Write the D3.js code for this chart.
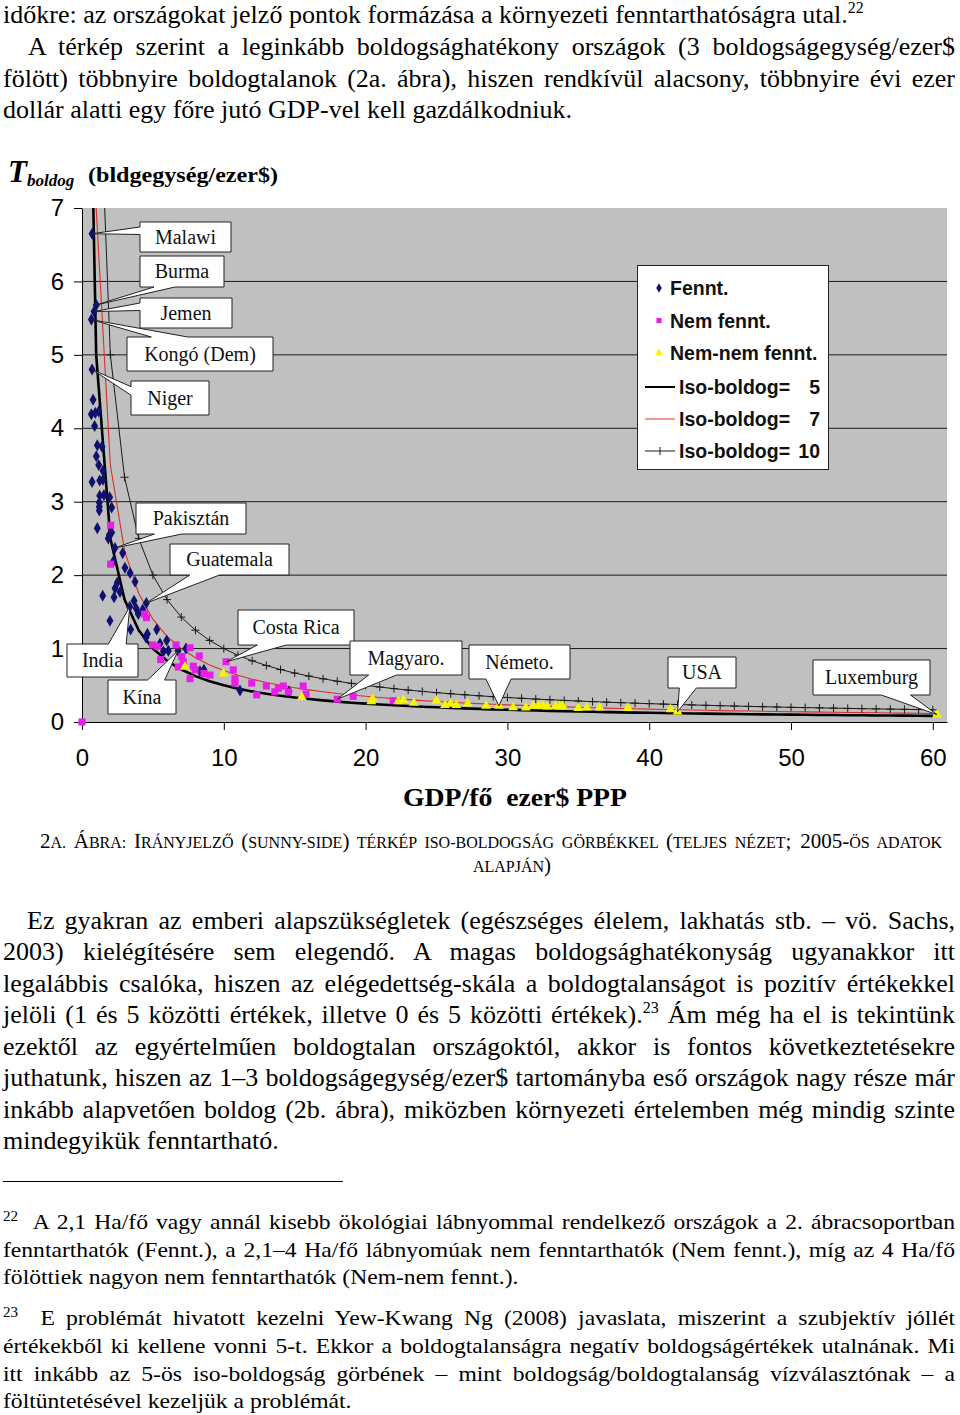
<!DOCTYPE html>
<html><head><meta charset="utf-8">
<script src="https://cdn.jsdelivr.net/npm/d3@7"></script>
<style>
body{margin:0;background:#fff;}
svg{display:block;}
text{white-space:pre;}
</style></head><body>
<svg id="page" width="960" height="1415"></svg>
<script>
// ---------------- DATA ----------------
// Fennt. (sustainable) countries: GDP/fő (ezer$ PPP) and T_boldog
const fenntGdp = [0.71,1.01,0.85,0.66,0.71,0.78,0.66,0.94,1.18,0.89,1.08,1.41,1.01,1.18,1.48,0.71,1.25,1.48,1.25,1.55,1.95,1.22,1.22,1.22,2.09,1.08,1.93,2.09,1.85,2.32,2.87,2.21,3.03,3.39,3.74,2.49,1.46,2.33,2.68,2.26,3.67,4.54,3.37,3.81,4.28,3.97,1.97,5.27,3.43,4.61,4.51,5.97,5.50,6.09,5.74,6.77,7.33,8.32,8.60,11.14,14.6];
const fenntT   = [6.65,5.68,5.59,5.48,4.80,4.39,4.19,4.21,4.23,4.03,3.77,3.75,3.62,3.50,3.42,3.27,3.29,3.30,3.08,3.09,3.06,2.99,2.93,2.88,2.92,2.64,2.55,2.58,2.50,2.37,2.30,2.19,2.10,2.03,1.91,1.90,1.72,1.82,1.77,1.70,1.65,1.62,1.57,1.55,1.53,1.47,1.38,1.26,1.26,1.20,1.15,1.11,1.07,0.97,0.96,0.97,1.00,0.69,0.71,0.43,0.42];
// Nem fennt.
const nemGdp = [0,2.02,2.02,4.42,4.55,4.98,5.31,5.55,6.63,6.79,7.03,7.14,7.62,7.62,7.85,7.97,8.27,8.60,9.03,10.16,10.67,10.79,10.79,11.97,12.32,13.0,13.6,13.85,14.2,14.55,15.6,15.8,18.0,19.13,21.95];
const nemT   = [0,2.68,2.15,1.47,1.42,1.05,1.03,0.85,1.05,0.75,0.89,0.82,1.01,0.59,0.76,0.71,0.90,0.66,0.64,0.82,0.71,0.59,0.53,0.53,0.37,0.49,0.41,0.46,0.49,0.41,0.49,0.38,0.31,0.35,0.29];
// Nem-nem fennt.
const nnGdp = [7.26,9.97,15.5,20.4,20.5,22.3,22.66,23.4,25.0,25.6,26.0,26.4,27.2,28.5,29.4,30.4,31.3,31.8,32.2,32.5,32.8,33.4,33.7,33.9,35.0,35.6,36.5,38.5,41.5,42.0,60.3];
const nnT   = [0.75,0.66,0.34,0.28,0.31,0.28,0.30,0.26,0.29,0.23,0.25,0.23,0.25,0.22,0.22,0.20,0.195,0.22,0.22,0.22,0.21,0.22,0.21,0.22,0.19,0.195,0.195,0.19,0.17,0.14,0.10];
// Iso-boldog curves: T = level / GDP, sampled at these GDP values
const isoLevels = [5, 7, 10];
const isoGdp = [0.5,1,2,3,4,5,6,7,8,9,10,11,12,13,14,15,16,17,18,19,20,21,22,23,24,25,26,27,28,29,30,31,32,33,34,35,36,37,38,39,40,41,42,43,44,45,46,47,48,49,50,51,52,53,54,55,56,57,58,59,60];
// Axes
const xTicks = [0,10,20,30,40,50,60];
const yTicks = [0,1,2,3,4,5,6,7];
// Legend
const seriesNames = ["Fennt.", "Nem fennt.", "Nem-nem fennt."];
const isoNames = ["Iso-boldog=", "Iso-boldog=", "Iso-boldog="];
// Callouts (labelled countries)
const calloutNames = ["Malawi","Burma","Jemen","Kongó (Dem)","Niger","Pakisztán","Guatemala","India","Kína","Costa Rica","Magyaro.","Németo.","USA","Luxemburg"];
const calloutGdp = [0.71,1.01,0.85,0.66,0.71,2.32,4.54,3.37,6.77,10.16,18.0,29.4,42.0,60.3];
const calloutT   = [6.65,5.68,5.59,5.48,4.80,2.37,1.62,1.57,0.97,0.82,0.31,0.22,0.14,0.10];

// ---------------- LAYOUT ----------------
const calloutBoxes = [[140,222,91,30],[140,256,84,31],[140,298,92,30],[127,337,146,34],[131,381,78,34],[136,503,110,31],[170,544,119,31],[67,644,71,33],[108,680,68,34],[238,610,116,35],[350,641,112,34],[469,645,101,34],[668,657,68,31],[813,660,117,35]];

const svg = d3.select('#page');
const SERIF = "'Liberation Serif','Times New Roman',serif";
const SANS = "'Liberation Sans',Arial,sans-serif";

// ---------------- TEXT HELPERS ----------------
function measure(str, size, family, weight) {
  const t = svg.append('text').attr('font-family', family).attr('font-size', size).attr('font-weight', weight||'normal').text(str);
  const w = t.node().getComputedTextLength();
  t.remove();
  return w;
}
// segs: [text, kind] kind 0 normal, 1 superscript, 2 big (caption), 3 small caps
function drawLine(segs, x, y, o) {
  const t = svg.append('text').attr('font-family', SERIF).attr('font-size', o.size)
    .attr('transform', `translate(${x},${y}) scale(${o.k},1)`).attr('fill', '#000');
  segs.forEach(([s, kind], i) => {
    const ts = t.append('tspan').text(s);
    if (kind === 1) ts.attr('font-size', o.supSize).attr('dy', -o.supRise);
    else if (i > 0 && segs[i-1][1] === 1) ts.attr('dy', o.supRise);
    if (kind === 2) ts.attr('font-size', o.bigSize);
    if (kind === 3) ts.attr('font-size', o.smallSize);
  });
  if (o.width) {
    const nat = t.node().getComputedTextLength();
    const spaces = segs.map(s => s[0]).join('').split(' ').length - 1;
    if (spaces > 0) t.attr('word-spacing', (o.width / o.k - nat) / spaces);
  }
  if (o.center !== undefined) {
    const nat = t.node().getComputedTextLength();
    t.attr('transform', `translate(${o.center - nat * o.k / 2},${y}) scale(${o.k},1)`);
  }
  return t;
}

// ---------------- BODY TEXT ----------------
const BODY = 26, FOOT = 22;
const kBody = 569 / measure("dollár alatti egy főre jutó GDP-vel kell gazdálkodniuk.", BODY, SERIF);
const kFoot = 516 / measure("fölöttiek nagyon nem fenntarthatók (Nem-nem fennt.).", FOOT, SERIF);
const bo = {size: BODY, k: kBody, supSize: 16, supRise: 10};
const fo = {size: FOOT, k: kFoot, supSize: 14, supRise: 8};

drawLine([["időkre: az országokat jelző pontok formázása a környezeti fenntarthatóságra utal.",0],["22",1]], 3, 23, bo);
drawLine([["A térkép szerint a leginkább boldogsághatékony országok (3 boldogságegység/ezer$",0]], 28, 55, {...bo, width: 927});
drawLine([["fölött) többnyire boldogtalanok (2a. ábra), hiszen rendkívül alacsony, többnyire évi ezer",0]], 3, 87, {...bo, width: 952});
drawLine([["dollár alatti egy főre jutó GDP-vel kell gazdálkodniuk.",0]], 3, 118, bo);

// caption (small caps)
const co = {size: 16, k: kBody, bigSize: 21, smallSize: 16};
drawLine([["2",2],["A. ",3],["Á",2],["BRA: ",3],["I",2],["RÁNYJELZŐ ",3],["(",2],["SUNNY-SIDE",3],[")",2],[" TÉRKÉP ISO-BOLDOGSÁG GÖRBÉKKEL ",3],["(",2],["TELJES NÉZET",3],["; 2005-",2],["ÖS ADATOK",3]], 40, 848, {...co, width: 902});
drawLine([["ALAPJÁN",3],[")",2]], 0, 872, {...co, center: 512});

const para = [
  [[["Ez gyakran az emberi alapszükségletek (egészséges élelem, lakhatás stb. – vö. Sachs,",0]], 27, 929, 928],
  [[["2003) kielégítésére sem elegendő. A magas boldogsághatékonyság ugyanakkor itt",0]], 3, 960, 952],
  [[["legalábbis csalóka, hiszen az elégedettség-skála a boldogtalanságot is pozitív értékekkel",0]], 3, 992, 952],
  [[["jelöli (1 és 5 közötti értékek, illetve 0 és 5 közötti értékek).",0],["23",1],[" Ám még ha el is tekintünk",0]], 3, 1023, 952],
  [[["ezektől az egyértelműen boldogtalan országoktól, akkor is fontos következtetésekre",0]], 3, 1055, 952],
  [[["juthatunk, hiszen az 1–3 boldogságegység/ezer$ tartományba eső országok nagy része már",0]], 3, 1086, 952],
  [[["inkább alapvetően boldog (2b. ábra), miközben környezeti értelemben még mindig szinte",0]], 3, 1118, 952],
  [[["mindegyikük fenntartható.",0]], 3, 1149, null]
];
para.forEach(([s, x, yb, w]) => drawLine(s, x, yb, w ? {...bo, width: w} : bo));

svg.append('line').attr('x1', 3).attr('x2', 343).attr('y1', 1181.5).attr('y2', 1181.5).attr('stroke', '#000').attr('stroke-width', 1.2);

const foot = [
  [[["22",1],["  A 2,1 Ha/fő vagy annál kisebb ökológiai lábnyommal rendelkező országok a 2. ábracsoportban",0]], 3, 1229, 952],
  [[["fenntarthatók (Fennt.), a 2,1–4 Ha/fő lábnyomúak nem fenntarthatók (Nem fennt.), míg az 4 Ha/fő",0]], 3, 1257, 952],
  [[["fölöttiek nagyon nem fenntarthatók (Nem-nem fennt.).",0]], 3, 1284, null],
  [[["23",1],["  E problémát hivatott kezelni Yew-Kwang Ng (2008) javaslata, miszerint a szubjektív jóllét",0]], 3, 1325, 952],
  [[["értékekből ki kellene vonni 5-t. Ekkor a boldogtalanságra negatív boldogságértékek utalnának. Mi",0]], 3, 1353, 952],
  [[["itt inkább az 5-ös iso-boldogság görbének – mint boldogság/boldogtalanság vízválasztónak – a",0]], 3, 1381, 952],
  [[["föltüntetésével kezeljük a problémát.",0]], 3, 1408, null]
];
foot.forEach(([s, x, yb, w]) => drawLine(s, x, yb, w ? {...fo, width: w} : fo));

// ---------------- CHART ----------------
const x = d3.scaleLinear().domain([0, 61]).range([82, 947]);
const y = d3.scaleLinear().domain([0, 7]).range([722, 208]);
const chart = svg.append('g');

chart.append('rect').attr('x', x(0)).attr('y', y(7)).attr('width', x(61) - x(0)).attr('height', y(0) - y(7)).attr('fill', '#c0c0c0');

// gridlines
chart.append('g').selectAll('line').data(yTicks.filter(d => d > 0 && d < 7)).join('line')
  .attr('x1', x(0)).attr('x2', x(61)).attr('y1', d => y(d)).attr('y2', d => y(d))
  .attr('stroke', '#1a1a1a').attr('stroke-width', 1);

// axes
const yAxis = chart.append('g').attr('transform', `translate(${x(0)},0)`)
  .call(d3.axisLeft(y).tickValues(yTicks).tickSize(8).tickSizeOuter(0).tickPadding(10).tickFormat(d3.format('d')));
yAxis.select('.domain').attr('stroke', '#000');
yAxis.selectAll('.tick line').attr('stroke', '#000');
yAxis.selectAll('text').attr('font-family', SANS).attr('font-size', 24).attr('fill', '#000');

const xAxis = chart.append('g').attr('transform', `translate(0,${y(0)})`)
  .call(d3.axisBottom(x).tickValues(xTicks).tickSize(8).tickSizeOuter(0).tickFormat(d3.format('d')));
xAxis.select('.domain').attr('stroke', '#000');
xAxis.selectAll('.tick line').attr('stroke', '#000');
xAxis.selectAll('text').attr('font-family', SANS).attr('font-size', 24).attr('fill', '#000').attr('y', 44).attr('dy', 0);

// titles
const yt = chart.append('text').attr('x', 8).attr('y', 182).attr('font-family', SERIF).attr('font-weight', 'bold');
yt.append('tspan').attr('font-style', 'italic').attr('font-size', 31).text('T');
yt.append('tspan').attr('font-style', 'italic').attr('font-size', 17).attr('dy', 4).text('boldog');
chart.append('text').attr('x', 88).attr('y', 182).attr('font-family', SERIF).attr('font-weight', 'bold').attr('font-size', 21)
  .attr('textLength', 190).attr('lengthAdjust', 'spacingAndGlyphs').text('(bldgegység/ezer$)');
chart.append('text').attr('x', 403).attr('y', 806).attr('font-family', SERIF).attr('font-weight', 'bold').attr('font-size', 26)
  .attr('textLength', 224).attr('lengthAdjust', 'spacingAndGlyphs').text('GDP/fő  ezer$ PPP');

// clip
svg.append('defs').append('clipPath').attr('id', 'plotclip').append('rect')
  .attr('x', x(0)).attr('y', y(7)).attr('width', x(61) - x(0)).attr('height', y(0) - y(7));

const isoStyle = [{c: '#000', w: 2.6}, {c: '#d8302a', w: 1.1}, {c: '#1a1a1a', w: 1}];
const line = d3.line().x(d => x(d[0])).y(d => y(d[1]));
const curves = chart.append('g').attr('clip-path', 'url(#plotclip)');
isoLevels.forEach((L, i) => {
  const pts = isoGdp.map(g => [g, L / g]);
  curves.append('path').datum(pts).attr('d', line).attr('fill', 'none')
    .attr('stroke', isoStyle[i].c).attr('stroke-width', isoStyle[i].w);
  if (i === 2) {
    curves.append('g').selectAll('path').data(pts).join('path')
      .attr('transform', d => `translate(${x(d[0])},${y(d[1])})`)
      .attr('d', 'M-4,0H4M0,-4V4').attr('stroke', '#1a1a1a').attr('stroke-width', 1);
  }
});

// points
const sym = {
  fennt: d3.symbol(d3.symbolDiamond, 42)(),
  nem: d3.symbol(d3.symbolSquare, 50)(),
  nn: d3.symbol(d3.symbolTriangle, 42)()
};
const colors = {fennt: '#10106e', nem: '#e61ee6', nn: '#f5f500'};
const pg = chart.append('g');
function drawPts(gd, td, key) {
  pg.append('g').selectAll('path').data(gd.map((g, i) => [g, td[i]])).join('path')
    .attr('transform', d => `translate(${x(d[0])},${y(d[1])})`)
    .attr('d', sym[key]).attr('fill', colors[key]);
}
drawPts(fenntGdp, fenntT, 'fennt');
drawPts(nemGdp, nemT, 'nem');
drawPts(nnGdp, nnT, 'nn');

// callouts (Excel-style wedge rectangle)
function calloutPath(bx, by, w, h, tx, ty) {
  const hc = bx + w / 2, vc = by + h / 2, dx = tx - hc, dy = ty - vc;
  const dz = Math.abs(dy) - Math.abs(dx * h / w);
  const x1 = bx + w * (dx > 0 ? 7 : 2) / 12, x2 = bx + w * (dx > 0 ? 10 : 5) / 12;
  const y1 = by + h * (dy > 0 ? 7 : 2) / 12, y2 = by + h * (dy > 0 ? 10 : 5) / 12;
  let p = `M${bx},${by}`;
  if (dz > 0 && dy < 0) p += `L${x1},${by}L${tx},${ty}L${x2},${by}`;
  p += `L${bx + w},${by}`;
  if (dz <= 0 && dx > 0) p += `L${bx + w},${y1}L${tx},${ty}L${bx + w},${y2}`;
  p += `L${bx + w},${by + h}`;
  if (dz > 0 && dy > 0) p += `L${x2},${by + h}L${tx},${ty}L${x1},${by + h}`;
  p += `L${bx},${by + h}`;
  if (dz <= 0 && dx < 0) p += `L${bx},${y2}L${tx},${ty}L${bx},${y1}`;
  return p + 'Z';
}
const cg = chart.append('g');
calloutNames.forEach((name, i) => {
  const [bx, by, w, h] = calloutBoxes[i];
  cg.append('path').attr('d', calloutPath(bx, by, w, h, x(calloutGdp[i]), y(calloutT[i])))
    .attr('fill', '#fff').attr('stroke', '#222').attr('stroke-width', 1);
  cg.append('text').attr('x', bx + w / 2).attr('y', by + h / 2 + 6.5).attr('text-anchor', 'middle')
    .attr('font-family', SERIF).attr('font-size', 20).attr('fill', '#111').text(name);
});

// legend
const lg = chart.append('g');
const LF = 19.5;
lg.append('rect').attr('x', 637.5).attr('y', 265.5).attr('width', 191).attr('height', 204).attr('fill', '#fff').attr('stroke', '#222');
const keys = ['fennt', 'nem', 'nn'];
seriesNames.forEach((n, i) => {
  const cy = 288 + i * 32.5;
  lg.append('path').attr('transform', `translate(659,${cy})`).attr('d', d3.symbol([d3.symbolDiamond, d3.symbolSquare, d3.symbolTriangle][i], 26)()).attr('fill', colors[keys[i]]);
  lg.append('text').attr('x', 670).attr('y', cy + 7).attr('font-family', SANS).attr('font-weight', 'bold').attr('font-size', LF).attr('fill', '#111').text(n);
});
isoLevels.forEach((L, i) => {
  const cy = 387 + i * 32;
  lg.append('line').attr('x1', 645).attr('x2', 675).attr('y1', cy).attr('y2', cy)
    .attr('stroke', isoStyle[i].c).attr('stroke-width', i === 0 ? 2 : 1);
  if (i === 2) lg.append('line').attr('x1', 660).attr('x2', 660).attr('y1', cy - 4).attr('y2', cy + 4).attr('stroke', '#1a1a1a');
  lg.append('text').attr('x', 679).attr('y', cy + 7).attr('font-family', SANS).attr('font-weight', 'bold').attr('font-size', LF).attr('fill', '#111').text(isoNames[i]);
  lg.append('text').attr('x', 820).attr('y', cy + 7).attr('text-anchor', 'end').attr('font-family', SANS).attr('font-weight', 'bold').attr('font-size', LF).attr('fill', '#111').text(String(L));
});
</script>
</body></html>
